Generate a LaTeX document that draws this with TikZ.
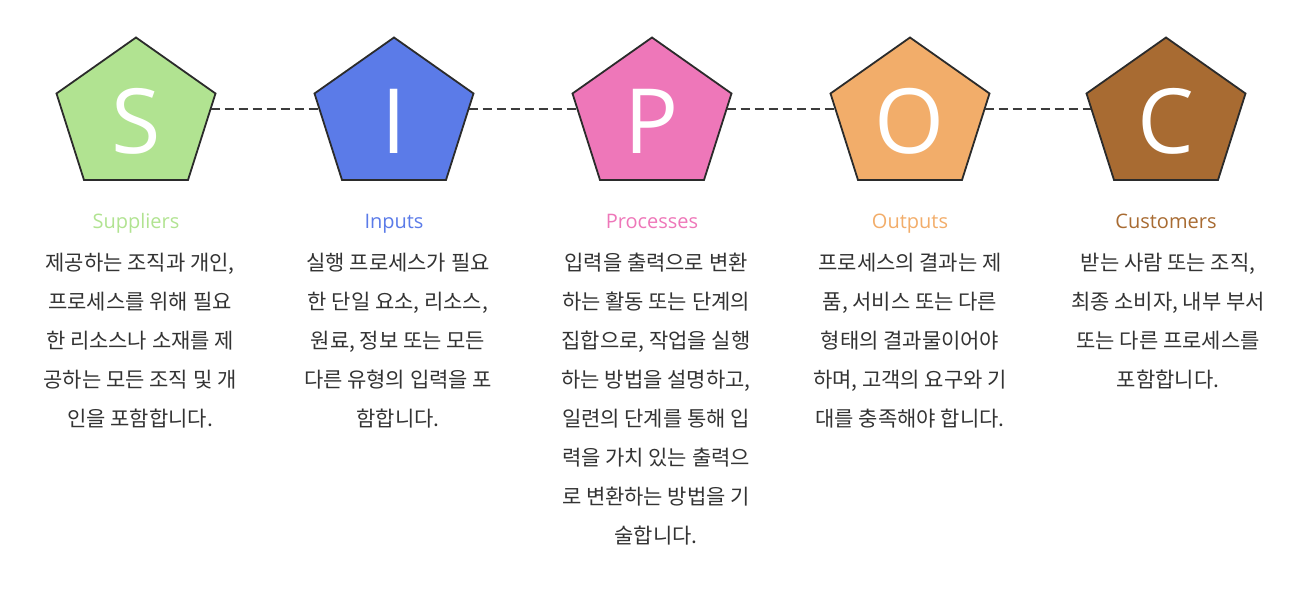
\documentclass[tikz,border=0pt]{standalone}
\usepackage{fontspec}
\setmainfont{Noto Sans CJK KR}
\newfontfamily\latinf{Open Sans}
\definecolor{cS}{HTML}{B1E391}
\definecolor{cI}{HTML}{5B7BE8}
\definecolor{cP}{HTML}{EE77B9}
\definecolor{cO}{HTML}{F2AD6A}
\definecolor{cC}{HTML}{A86B32}
\definecolor{edge}{HTML}{2B2B2B}
\definecolor{body}{HTML}{333333}
\definecolor{dash}{HTML}{3C3C3C}
\begin{document}
\begin{tikzpicture}[x=1pt,y=-1pt,
  pentbox/.style={draw=edge,line width=1.8pt,line join=miter},
  bigletter/.style={text=white,font=\latinf\fontsize{90}{90}\selectfont,inner sep=0pt},
  titletext/.style={font=\latinf\fontsize{20}{22}\selectfont,inner sep=0pt,anchor=base},
  bodytext/.style={text=body,font=\fontsize{21}{39}\selectfont,align=center,inner sep=0pt,anchor=north},
  linkline/.style={draw=dash,line width=2.6pt,dash pattern=on 9pt off 5pt}]
\useasboundingbox (0,0) rectangle (1312,593);
\foreach \n/\cx/\col/\L/\T in {S/136/cS/S/Suppliers, I/394/cI/I/Inputs, P/652/cP/P/Processes, O/910/cO/O/Outputs, C/1166/cC/C/Customers}{
  \draw[pentbox,fill=\col] (\cx,37.5) -- (\cx+79.5,93.5) -- (\cx+52,180) -- (\cx-52,180) -- (\cx-79.5,93.5) -- cycle;
  \node[bigletter] (\n-let) at (\cx,121) {\L};
  \node[titletext,text=\col] (\n-title) at (\cx,229) {\T};
  \coordinate (\n-r) at (\cx+74.6,109);
  \coordinate (\n-l) at (\cx-74.6,109);
}
\draw[linkline] (S-r) -- (I-l);
\draw[linkline] (I-r) -- (P-l);
\draw[linkline] (P-r) -- (O-l);
\draw[linkline] (O-r) -- (C-l);
\node[bodytext] (S-body) at (140,253) {제공하는 조직과 개인,\\프로세스를 위해 필요\\한 리소스나 소재를 제\\공하는 모든 조직 및 개\\인을 포함합니다.};
\node[bodytext] (I-body) at (398,253) {실행 프로세스가 필요\\한 단일 요소, 리소스,\\원료, 정보 또는 모든\\다른 유형의 입력을 포\\함합니다.};
\node[bodytext] (P-body) at (656,253) {입력을 출력으로 변환\\하는 활동 또는 단계의\\집합으로, 작업을 실행\\하는 방법을 설명하고,\\일련의 단계를 통해 입\\력을 가치 있는 출력으\\로 변환하는 방법을 기\\술합니다.};
\node[bodytext] (O-body) at (910,253) {프로세스의 결과는 제\\품, 서비스 또는 다른\\형태의 결과물이어야\\하며, 고객의 요구와 기\\대를 충족해야 합니다.};
\node[bodytext] (C-body) at (1168,253) {받는 사람 또는 조직,\\최종 소비자, 내부 부서\\또는 다른 프로세스를\\포함합니다.};
\end{tikzpicture}
\end{document}
